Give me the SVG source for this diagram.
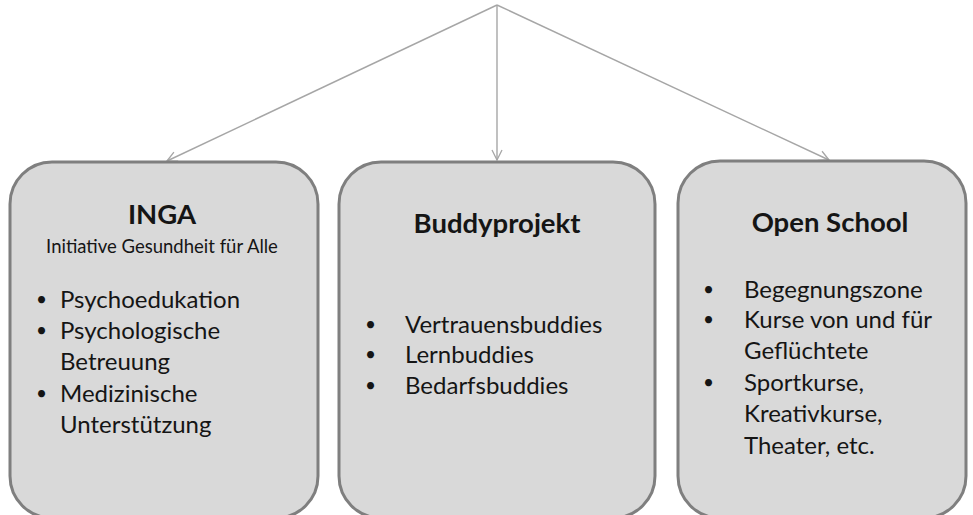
<svg xmlns="http://www.w3.org/2000/svg" width="973" height="515" viewBox="0 0 973 515">
<defs>
<marker id="arr" viewBox="0 0 12 12" refX="11" refY="6" markerWidth="12" markerHeight="12" markerUnits="userSpaceOnUse" orient="auto">
<path d="M1,1 L11,6 L1,11" fill="none" stroke="#a6a6a6" stroke-width="1.3"/>
</marker>
<style>
.box{fill:#d9d9d9;stroke:#7f7f7f;stroke-width:3}
.conn{fill:none;stroke:#a6a6a6;stroke-width:1.4}
text{font-family:Lato,"Open Sans",sans-serif;fill:#151515}
.title{font-size:27.5px;font-weight:bold;text-anchor:middle}
.sub{font-size:18.5px;text-anchor:middle}
.item{font-size:24px}
.bul{font-size:19px}
</style>
</defs>
<rect width="973" height="515" fill="#fff"/>
<g id="connectors">
<line class="conn" x1="497" y1="5" x2="167" y2="161" marker-end="url(#arr)"/>
<line class="conn" x1="497" y1="5" x2="497" y2="160" marker-end="url(#arr)"/>
<line class="conn" x1="497" y1="5" x2="829" y2="160" marker-end="url(#arr)"/>
</g>
<g id="inga">
<rect class="box" x="10" y="162" width="308" height="356" rx="42" ry="42"/>
<text class="title" x="162" y="224">INGA</text>
<text class="sub" x="162" y="253">Initiative Gesundheit für Alle</text>
<text class="bul" x="36" y="306">•</text>
<text class="item" x="60" y="308">Psychoedukation</text>
<text class="bul" x="36" y="337">•</text>
<text class="item" x="60" y="339">Psychologische</text>
<text class="item" x="60" y="370">Betreuung</text>
<text class="bul" x="36" y="400">•</text>
<text class="item" x="60" y="402">Medizinische</text>
<text class="item" x="60" y="433">Unterstützung</text>
</g>
<g id="buddyprojekt">
<rect class="box" x="339" y="162" width="316" height="356" rx="42" ry="42"/>
<text class="title" x="497" y="233">Buddyprojekt</text>
<text class="bul" x="365" y="331">•</text>
<text class="item" x="405" y="333">Vertrauensbuddies</text>
<text class="bul" x="365" y="361">•</text>
<text class="item" x="405" y="363">Lernbuddies</text>
<text class="bul" x="365" y="392">•</text>
<text class="item" x="405" y="394">Bedarfsbuddies</text>
</g>
<g id="openschool">
<rect class="box" x="678" y="161" width="288" height="357" rx="42" ry="42"/>
<text class="title" x="830" y="232">Open School</text>
<text class="bul" x="703" y="296">•</text>
<text class="item" x="744" y="298">Begegnungszone</text>
<text class="bul" x="703" y="326">•</text>
<text class="item" x="744" y="328">Kurse von und für</text>
<text class="item" x="744" y="359">Geflüchtete</text>
<text class="bul" x="703" y="389">•</text>
<text class="item" x="744" y="391">Sportkurse,</text>
<text class="item" x="744" y="422">Kreativkurse,</text>
<text class="item" x="744" y="454">Theater, etc.</text>
</g>
</svg>
